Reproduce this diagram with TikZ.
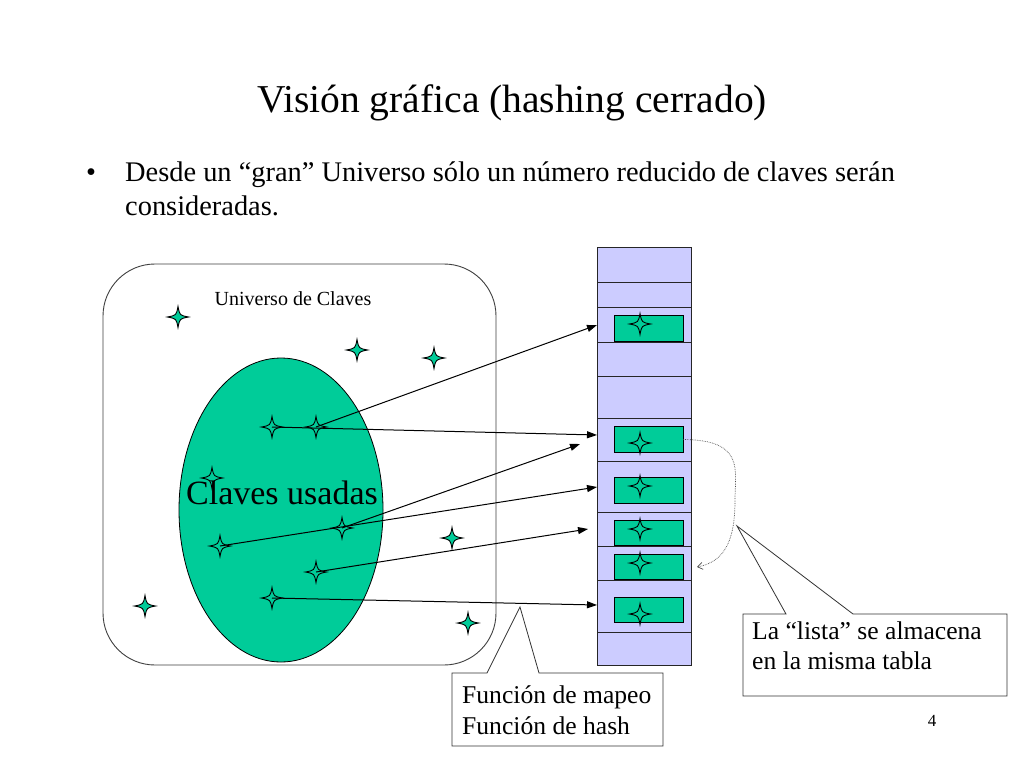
\documentclass[tikz,border=0pt]{standalone}
\usepackage{fontspec}
\setmainfont{Liberation Serif}
\usetikzlibrary{arrows.meta,shapes.geometric}
\definecolor{keygreen}{RGB}{0,204,153}
\definecolor{slotblue}{RGB}{204,204,255}

\begin{document}
\begin{tikzpicture}[x=1pt,y=-1pt,
    keystar/.pic={\draw [black, fill=keygreen, line width=0.9pt] (0,-10.5) .. controls (1.7,-1.7) .. (10.5,0) .. controls (1.7,1.7) .. (0,10.5) .. controls (-1.7,1.7) .. (-10.5,0) .. controls (-1.7,-1.7) .. cycle;},
    slotbox/.style={draw=black, fill=keygreen, minimum width=69pt, minimum height=25.5pt, line width=0.8pt},
    hasharrow/.style={-{Triangle[length=10pt,width=7pt]}, line width=1pt},
    callout/.style={draw=black!80, fill=white, line width=0.8pt}]
    \tikzstyle{every node}+=[inner sep=0pt]
    \useasboundingbox (0,0) rectangle (1024,768);
    \fill [white] (0,0) rectangle (1024,768);
    \node [anchor=base, font=\fontsize{39.5}{46}\selectfont] (title) at (512,112) {Visión gráfica (hashing cerrado)};
    \node [anchor=base west, font=\fontsize{28.4}{34}\selectfont] (bullet) at (86,181) {•};
    \node [anchor=base west, font=\fontsize{28.4}{34}\selectfont] (intro1) at (125,181) {Desde un “gran” Universo sólo un número reducido de claves serán};
    \node [anchor=base west, font=\fontsize{28.4}{34}\selectfont] (intro2) at (125,215) {consideradas.};
    \draw [black!75, line width=0.9pt, rounded corners=52pt] (103,264) rectangle (496,665);
    \node [anchor=base, font=\fontsize{20}{24}\selectfont] (universe) at (293,305) {Universo de Claves};
    \foreach \name/\x/\y in {u1/178/317, u2/357/350, u3/434/358, u4/452/538, u5/145/606, u6/468/623} {
        \coordinate (\name) at (\x,\y);
        \pic at (\name) {keystar};
    }
    \node [ellipse, draw=black, fill=keygreen, line width=0.8pt, minimum width=204pt, minimum height=304pt] (used) at (281,510) {};
    \foreach \name/\x/\y in {k1/272/427, k2/316/427, k3/212/478, k4/342/528, k5/220/546, k6/316/572, k7/272/598} {
        \coordinate (\name) at (\x,\y);
        \pic at (\name) {keystar};
    }
    \node [anchor=base, font=\fontsize{34}{40}\selectfont] (usedlabel) at (282,504) {Claves usadas};
    \fill [slotblue] (597,247) rectangle (691,665);
    \foreach \y in {282,307,342,376,418,461,512,546,580,632}
        \draw [black!85, line width=0.8pt] (597,\y) -- (691,\y);
    \draw [black!85, line width=0.8pt] (597,247) rectangle (691,665);
    \node [slotbox] (b1) at (648.5,328.5) {};
    \node [slotbox] (b2) at (648.5,439.5) {};
    \node [slotbox] (b3) at (648.5,490.5) {};
    \node [slotbox] (b4) at (648.5,533) {};
    \node [slotbox] (b5) at (648.5,567) {};
    \node [slotbox] (b6) at (648.5,610) {};
    \foreach \name/\y in {s1/324, s2/443, s3/486, s4/529, s5/563, s6/614} {
        \coordinate (\name) at (640,\y);
        \pic at (\name) {keystar};
    }
    \coordinate (t1) at (597,325);
    \coordinate (t2) at (597,435);
    \coordinate (t3) at (580,444);
    \coordinate (t4) at (597,487);
    \coordinate (t5) at (588,529);
    \coordinate (t6) at (597,605);
    \draw [hasharrow] (k2) -- (t1);
    \draw [hasharrow] (k1) -- (t2);
    \draw [hasharrow] (k4) -- (t3);
    \draw [hasharrow] (k5) -- (t4);
    \draw [hasharrow] (k6) -- (t5);
    \draw [hasharrow] (k7) -- (t6);
    \draw [black!70, densely dotted, line width=0.7pt, -{Straight Barb[length=5pt,width=7pt]}] (b2.east) .. controls (745,440) and (735,470) .. (735,500) .. controls (735,545) and (722,562) .. (697,567);
    \draw [callout] (452,673) -- (487,673) -- (520,607) -- (539,673) -- (663,673) -- (663,746) -- (452,746) -- cycle;
    \node [anchor=base west, font=\fontsize{25.6}{30}\selectfont] (map1) at (462,703) {Función de mapeo};
    \node [anchor=base west, font=\fontsize{25.6}{30}\selectfont] (map2) at (462,734) {Función de hash};
    \draw [callout] (743,614) -- (786,614) -- (737,526) -- (853,614) -- (1007,614) -- (1007,696) -- (743,696) -- cycle;
    \node [anchor=base west, font=\fontsize{25.6}{30}\selectfont] (list1) at (752,639) {La “lista” se almacena};
    \node [anchor=base west, font=\fontsize{25.6}{30}\selectfont] (list2) at (752,669) {en la misma tabla};
    \node [anchor=base, font=\fontsize{17}{20}\selectfont] (pagenum) at (932,726) {4};
\end{tikzpicture}
\end{document}
